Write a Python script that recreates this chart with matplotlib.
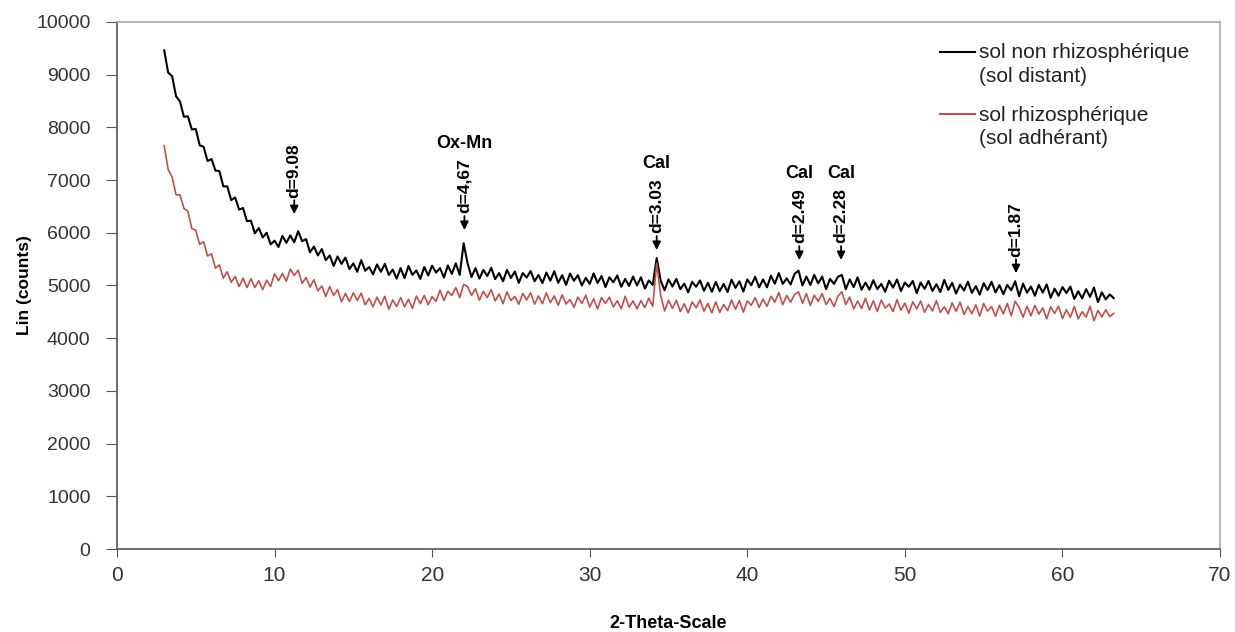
import numpy as np
import matplotlib.pyplot as plt

plt.rcParams['font.family'] = ['Liberation Sans', 'DejaVu Sans']

# 2-theta grid of the scan (step 0.25 deg from 3.0 to 63.25)
two_theta = np.arange(3.0, 63.26, 0.25)

# sol non rhizospherique (sol distant), one row = 5 degrees
distant = [
    9460, 9040, 8970, 8590, 8490, 8200, 8210, 7960, 7970, 7660, 7630, 7360, 7400, 7180, 7170, 6880, 6880, 6620, 6670, 6440,
    6470, 6220, 6230, 5990, 6090, 5910, 6000, 5780, 5850, 5730, 5940, 5810, 5950, 5820, 6030, 5840, 5880, 5630, 5740, 5570,
    5690, 5480, 5570, 5370, 5550, 5410, 5530, 5310, 5420, 5260, 5480, 5280, 5350, 5210, 5400, 5260, 5410, 5200, 5300, 5130,
    5330, 5140, 5370, 5200, 5285, 5125, 5350, 5190, 5375, 5245, 5330, 5150, 5380, 5220, 5420, 5200, 5800, 5420, 5160, 5330,
    5130, 5295, 5180, 5335, 5120, 5235, 5080, 5295, 5140, 5265, 5050, 5235, 5150, 5275, 5080, 5200, 5045, 5245, 5090, 5270,
    5050, 5195, 5010, 5225, 5090, 5195, 5000, 5145, 5030, 5230, 5045, 5180, 4970, 5155, 5060, 5190, 4975, 5125, 4990, 5170,
    5000, 5155, 4940, 5095, 5010, 5520, 5095, 4910, 5115, 4980, 5125, 4930, 5035, 4870, 5070, 4975, 5095, 4900, 5050, 4880,
    5070, 4890, 5030, 4875, 5110, 4955, 5080, 4885, 5115, 5005, 5165, 4965, 5115, 4965, 5185, 5035, 5235, 5030, 5135, 5020,
    5220, 5280, 5000, 5170, 5010, 5200, 5040, 5170, 4930, 5125, 5030, 5165, 5200, 4930, 5115, 4970, 5155, 4920, 5055, 4920,
    5100, 4930, 5030, 4880, 5090, 4960, 5115, 4895, 5055, 4975, 5085, 4855, 5055, 4935, 5085, 4895, 5025, 4875, 5105, 4915,
    5050, 4848, 5016, 4904, 5072, 4860, 4988, 4826, 5044, 4912, 5070, 4868, 5006, 4834, 5012, 4910, 5080, 4796, 5034, 4862,
    4980, 4805, 5010, 4865, 5020, 4765, 4940, 4805, 4970, 4855, 4980, 4745, 4890, 4755, 4930, 4785, 4960, 4685, 4870, 4735,
    4830, 4760,
]

# sol rhizospherique (sol adherant)
adherant = [
    7650, 7200, 7060, 6720, 6720, 6460, 6410, 6080, 6050, 5780, 5830, 5560, 5600, 5330, 5390, 5140, 5260, 5060, 5170, 4980,
    5140, 4960, 5130, 4960, 5090, 4920, 5100, 4980, 5220, 5090, 5230, 5080, 5310, 5190, 5290, 5040, 5150, 4970, 5110, 4900,
    4990, 4790, 4980, 4810, 4920, 4690, 4850, 4695, 4860, 4715, 4855, 4635, 4755, 4595, 4780, 4630, 4795, 4550, 4725, 4600,
    4770, 4595, 4740, 4565, 4800, 4655, 4810, 4635, 4790, 4700, 4910, 4715, 4890, 4810, 4960, 4770, 5020, 4980, 4810, 4940,
    4720, 4890, 4770, 4920, 4705, 4840, 4655, 4880, 4715, 4790, 4645, 4850, 4725, 4860, 4645, 4800, 4655, 4860, 4675, 4800,
    4625, 4822, 4649, 4736, 4583, 4780, 4657, 4814, 4591, 4748, 4555, 4772, 4659, 4776, 4593, 4710, 4557, 4794, 4591, 4708,
    4555, 4712, 4580, 4758, 4606, 5420, 4820, 4515, 4720, 4565, 4720, 4505, 4652, 4480, 4688, 4576, 4724, 4512, 4660, 4478,
    4688, 4488, 4640, 4522, 4725, 4550, 4715, 4495, 4705, 4625, 4770, 4585, 4740, 4605, 4795, 4685, 4865, 4635, 4810, 4685,
    4830, 4880, 4660, 4845, 4620, 4815, 4700, 4845, 4640, 4755, 4600, 4795, 4880, 4640, 4780, 4555, 4705, 4565, 4760, 4535,
    4710, 4507, 4724, 4571, 4648, 4505, 4732, 4529, 4666, 4473, 4690, 4557, 4704, 4491, 4638, 4515, 4712, 4489, 4596, 4463,
    4670, 4507, 4684, 4451, 4598, 4465, 4632, 4419, 4656, 4513, 4600, 4417, 4624, 4461, 4658, 4425, 4700, 4580, 4398, 4606,
    4425, 4621, 4457, 4573, 4369, 4595, 4471, 4607, 4373, 4539, 4395, 4601, 4367, 4503, 4399, 4605, 4331, 4527, 4403, 4540,
    4410, 4470,
]

# peak annotations: position, arrow tip, d-spacing, mineral
peak_pos = [11.25, 22.05, 34.25, 43.3, 45.95, 57.05]
peak_tip = [6300, 6000, 5620, 5430, 5430, 5180]
peak_d = ['d=9.08', 'd=4,67', 'd=3.03', 'd=2.49', 'd=2.28', 'd=1.87']
peak_name = ['', 'Ox-Mn', 'Cal', 'Cal', 'Cal', '']

labels = ['sol non rhizosphérique\n(sol distant)', 'sol rhizosphérique\n(sol adhérant)']
colors = ['black', '#c0504d']

fig = plt.figure(figsize=(12.35, 6.32), dpi=100)
ax = fig.add_axes([0.0947, 0.1313, 0.8932, 0.834])

ax.plot(two_theta, distant, color=colors[0], lw=1.5)
ax.plot(two_theta, adherant, color=colors[1], lw=1.2)

for x, tip, d, name in zip(peak_pos, peak_tip, peak_d, peak_name):
    ax.annotate('', xy=(x, tip), xytext=(0, 14), textcoords='offset points',
                arrowprops=dict(arrowstyle='-|>', color='black', lw=1.3, mutation_scale=12))
    ax.annotate(d, xy=(x, tip), xytext=(0, 14), textcoords='offset points',
                rotation=90, ha='center', va='bottom', fontsize=12.5, fontweight='bold')
    if name:
        ax.annotate(name, xy=(x, tip), xytext=(0, 58), textcoords='offset points',
                    ha='center', va='bottom', fontsize=13, fontweight='bold')

# legend, handle next to the first line of each label
for i, (lab, c) in enumerate(zip(labels, colors)):
    y_h = 0.9431 - i * 0.1177
    ax.plot([0.7461, 0.7779], [y_h, y_h], color=c, lw=1.5, transform=ax.transAxes)
    ax.text(0.7815, y_h + 0.016, lab, transform=ax.transAxes, ha='left', va='top',
            fontsize=15, color='#222222', linespacing=1.3)

ax.set_xlim(0, 70)
ax.set_ylim(0, 10000)
ax.set_xticks(range(0, 71, 10))
ax.set_yticks(range(0, 10001, 1000))
ax.tick_params(axis='x', direction='out', length=6, pad=6, labelsize=15,
               color='#555555', labelcolor='#333333')
ax.tick_params(axis='y', direction='out', length=8, pad=11, labelsize=14,
               color='#555555', labelcolor='#333333')

for s in ['left', 'bottom']:
    ax.spines[s].set_color('#555555')
    ax.spines[s].set_linewidth(1.2)
for s in ['top', 'right']:
    ax.spines[s].set_color('#aaaaaa')
    ax.spines[s].set_linewidth(1.2)

ax.set_xlabel('2-Theta-Scale', fontsize=13, fontweight='bold', labelpad=22)
ax.set_ylabel('Lin (counts)', fontsize=12.5, fontweight='bold', labelpad=3)

fig.savefig('out.png', dpi=100)
